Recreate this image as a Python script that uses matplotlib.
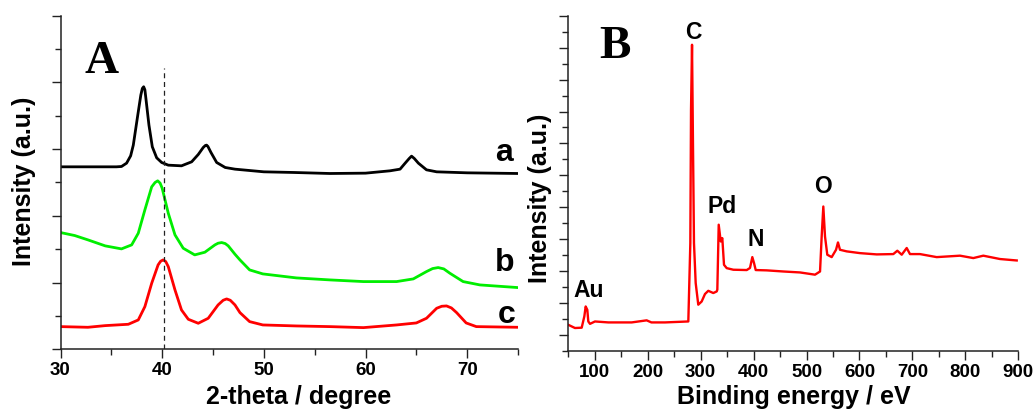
import matplotlib
matplotlib.use("Agg")
import matplotlib.pyplot as plt
from matplotlib.ticker import MultipleLocator

plt.rcParams['font.family'] = ['Liberation Sans', 'DejaVu Sans']
plt.rcParams['font.weight'] = 'bold'

# ---------------- Panel A: XRD ----------------
xrd_a_x = [30.0, 32.0, 34.0, 35.5, 36.0, 36.5, 36.9, 37.16, 37.6, 37.9, 38.05, 38.18, 38.3, 38.4,
           38.7, 39.03, 39.46, 39.95, 40.6, 41.9, 42.9, 43.55, 44.04, 44.25, 44.37, 44.5, 44.8,
           45.36, 46.2, 47.16, 50.0, 53.0, 56.5, 60.0, 62.4, 63.4, 63.9, 64.3, 64.53, 64.8,
           65.2, 66.0, 67.0, 70.0, 75.0]
xrd_a_y = [5.47, 5.47, 5.47, 5.47, 5.48, 5.58, 5.80, 6.12, 7.02, 7.62, 7.82, 7.87, 7.78, 7.52,
           6.72, 6.07, 5.74, 5.60, 5.52, 5.50, 5.62, 5.84, 6.05, 6.11, 6.12, 6.08, 5.90,
           5.60, 5.45, 5.40, 5.32, 5.30, 5.27, 5.28, 5.35, 5.40, 5.58, 5.72, 5.79, 5.72,
           5.58, 5.38, 5.32, 5.29, 5.27]

xrd_b_x = [30.0, 31.4, 32.7, 34.4, 36.0, 37.0, 37.65, 38.3, 38.97, 39.3, 39.56, 39.8, 40.0, 40.6,
           41.26, 42.07, 43.2, 44.2, 45.19, 45.5, 45.85, 46.2, 46.5, 47.16, 47.65, 48.6, 49.9,
           53.2, 56.5, 59.8, 63.06, 64.7, 66.0, 66.6, 67.15, 67.7, 68.3, 69.6, 71.25, 75.0]
xrd_b_y = [3.50, 3.41, 3.28, 3.10, 3.01, 3.13, 3.48, 4.18, 4.87, 5.00, 5.05, 4.98, 4.83, 4.08,
           3.43, 3.03, 2.83, 2.91, 3.13, 3.18, 3.20, 3.17, 3.10, 2.85, 2.68, 2.38, 2.26,
           2.14, 2.08, 2.03, 2.03, 2.11, 2.33, 2.42, 2.45, 2.41, 2.28, 2.03, 1.93, 1.85]

xrd_c_x = [30.0, 32.7, 34.4, 36.67, 37.65, 38.3, 38.97, 39.6, 39.85, 40.1, 40.35, 40.6, 41.26,
           41.9, 42.57, 43.55, 44.53, 45.5, 46.0, 46.34, 46.7, 47.16, 47.65, 48.6, 49.9, 53.2,
           56.5, 59.8, 63.06, 65.0, 66.0, 67.0, 67.5, 67.97, 68.45, 68.96, 69.9, 70.9, 75.0]
xrd_c_y = [0.68, 0.66, 0.71, 0.75, 0.88, 1.28, 1.98, 2.53, 2.64, 2.68, 2.63, 2.48, 1.78,
           1.18, 0.90, 0.78, 0.93, 1.33, 1.47, 1.51, 1.47, 1.33, 1.10, 0.83, 0.73, 0.70,
           0.68, 0.65, 0.73, 0.79, 0.93, 1.23, 1.29, 1.30, 1.24, 1.10, 0.79, 0.68, 0.66]

xrd_labels = ['a', 'b', 'c']
xrd_label_pos = [(73.6, 5.88), (73.7, 2.58), (73.9, 1.03)]
ref_line_x = 40.2
ref_line_top = 8.44

# ---------------- Panel B: XPS ----------------
xps_x = [50.0, 62.6, 75.3, 80.3, 82.8, 85.9, 87.8, 91.0, 100.4, 125.6, 169.7, 198.0, 207.0, 232.7,
         276.7, 280.5, 281.8, 283.7, 285.5, 287.4, 290.6, 295.5, 301.9, 308.2, 314.4, 323.9,
         330.3, 331.5, 334.1, 337.9, 340.9, 344.1, 349.2, 361.7, 387.0, 393.2, 397.6, 400.8,
         404.0, 424.8, 456.2, 487.7, 516.0, 525.5, 528.6, 531.7, 534.9, 539.2, 547.5, 555.7,
         559.4, 563.2, 575.8, 601.0, 632.5, 663.9, 671.5, 679.8, 689.2, 695.4, 714.3, 745.8,
         789.9, 815.0, 833.9, 865.5, 897.0]
xps_y = [0.64, 0.44, 0.46, 1.17, 1.79, 1.58, 0.85, 0.70, 0.85, 0.79, 0.79, 0.92, 0.79, 0.79,
         0.85, 5.76, 14.1, 18.18, 12.0, 5.76, 3.26, 1.90, 2.10, 2.57, 2.77, 2.63,
         2.73, 2.84, 6.91, 5.86, 6.07, 4.40, 4.19, 4.09, 4.07, 4.20, 4.88, 4.51,
         4.07, 4.05, 3.98, 3.92, 3.78, 3.98, 6.17, 8.05, 6.17, 5.03, 4.88, 5.34,
         5.80, 5.34, 5.24, 5.13, 5.05, 5.07, 5.28, 5.03, 5.45, 5.07, 5.07, 4.88,
         4.97, 4.82, 4.97, 4.76, 4.67]

xps_labels = ['Au', 'C', 'Pd', 'N', 'O']
xps_label_pos = [(87.8, 2.79), (286.1, 18.97), (339.8, 8.05), (404.6, 5.97), (531.7, 9.3)]

W, H = 1035, 409
fig = plt.figure(figsize=(W / 100, H / 100), dpi=100)

axA = fig.add_axes([60.5 / W, 1 - 349.3 / H, 457.5 / W, 333.6 / H])
axB = fig.add_axes([568.3 / W, 1 - 351.0 / H, 450.0 / W, 335.3 / H])

def style(ax):
    for s in ['top', 'right']:
        ax.spines[s].set_visible(False)
    for s in ['left', 'bottom']:
        ax.spines[s].set_linewidth(1.1)
        ax.spines[s].set_color('#222222')
    ax.tick_params(which='major', direction='out', length=6.5, width=1.0, color='#222222',
                   labelsize=13.5, pad=3)
    ax.tick_params(which='minor', direction='out', length=4, width=1.0, color='#222222')
    ax.tick_params(axis='y', labelleft=False)

# Panel A
axA.plot(xrd_a_x, xrd_a_y, color='black', lw=2.0)
axA.plot(xrd_b_x, xrd_b_y, color='#00ee00', lw=2.0)
axA.plot(xrd_c_x, xrd_c_y, color='#ff0000', lw=2.0)
axA.plot([ref_line_x, ref_line_x], [0, ref_line_top], color='#222222', lw=0.9, ls=(0, (4, 3)))
axA.set_xlim(30, 75)
axA.set_ylim(0, 10)
axA.xaxis.set_major_locator(MultipleLocator(10))
axA.xaxis.set_minor_locator(MultipleLocator(5))
axA.yaxis.set_major_locator(MultipleLocator(2))
axA.yaxis.set_minor_locator(MultipleLocator(1))
style(axA)
for lab, (lx, ly) in zip(xrd_labels, xrd_label_pos):
    axA.text(lx, ly, lab, fontsize=23, fontweight='bold', ha='center', va='center')
axA.text(34.0, 8.62, 'A', fontsize=34, fontweight='bold', family='Liberation Serif',
         ha='center', va='center')

# Panel B
axB.plot(xps_x, xps_y, color='#ff0000', lw=1.7)
axB.set_xlim(50, 900)
axB.set_ylim(-1, 20)
axB.xaxis.set_major_locator(MultipleLocator(100))
axB.xaxis.set_minor_locator(MultipleLocator(50))
axB.yaxis.set_major_locator(MultipleLocator(2))
axB.yaxis.set_minor_locator(MultipleLocator(1))
style(axB)
for lab, (lx, ly) in zip(xps_labels, xps_label_pos):
    axB.text(lx, ly, lab, fontsize=16.5, fontweight='bold', ha='center', va='center')
axB.text(138.2, 18.07, 'B', fontsize=34, fontweight='bold', family='Liberation Serif',
         ha='center', va='center')

# Axis titles
fig.text(298.7 / W, 1 - 404 / H, '2-theta / degree', fontsize=18, fontweight='bold',
         ha='center', va='baseline')
fig.text(794 / W, 1 - 404 / H, 'Binding energy / eV', fontsize=18, fontweight='bold',
         ha='center', va='baseline')
fig.text(23.6 / W, 1 - 181.7 / H, 'Intensity (a.u.)', fontsize=18, fontweight='bold',
         ha='center', va='center', rotation=90)
fig.text(540 / W, 1 - 198 / H, 'Intensity (a.u.)', fontsize=18, fontweight='bold',
         ha='center', va='center', rotation=90)

fig.savefig('out.png', dpi=100, facecolor='white')
